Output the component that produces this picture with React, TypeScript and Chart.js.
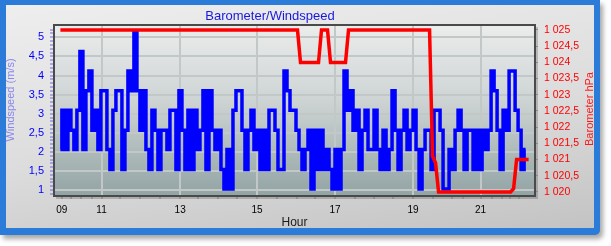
import React, { useEffect, useRef } from "react";
import { Chart, registerables } from "chart.js";

Chart.register(...registerables);

// Wind speed (m/s), one reading per sample
const windSpeed: number[] = [
  2.06, 3.09, 2.06, 3.09, 2.57, 2.06, 3.09, 4.63, 2.06, 3.6,
  4.12, 2.57, 3.09, 2.06, 3.6, 3.6, 2.06, 1.54, 3.09, 3.6,
  3.6, 1.54, 2.57, 4.12, 3.6, 5.14, 3.6, 2.57, 3.6, 2.06,
  1.54, 3.09, 2.57, 1.54, 2.57, 2.57, 2.06, 3.09, 3.09, 1.54,
  3.6, 2.57, 1.54, 3.09, 1.54, 3.09, 2.06, 2.57, 3.6, 1.54,
  3.6, 2.57, 2.06, 2.57, 1.54, 1.03, 2.06, 1.03, 3.09, 3.6,
  3.6, 2.57, 1.54, 2.57, 3.09, 2.06, 2.57, 1.54, 2.57, 1.54,
  3.09, 3.09, 2.57, 1.54, 1.54, 4.12, 3.6, 3.09, 3.09, 2.57,
  2.06, 1.54, 2.06, 2.57, 1.03, 2.57, 1.54, 2.57, 1.54, 2.06,
  1.54, 1.03, 2.06, 1.03, 2.06, 4.12, 3.09, 3.6, 2.57, 3.09,
  1.54, 2.57, 3.09, 2.06, 2.06, 3.09, 2.06, 1.54, 2.57, 1.54,
  2.06, 3.6, 2.57, 1.54, 2.57, 3.09, 2.06, 2.57, 3.09, 2.06,
  1.03, 2.06, 2.57, 2.57, 1.54, 3.09, 3.09, 2.57, 1.03, 1.03,
  2.06, 1.54, 2.57, 3.09, 2.57, 1.54, 2.57, 2.57, 1.54, 2.57,
  1.54, 2.57, 2.06, 2.57, 4.12, 3.6, 2.57, 1.54, 3.09, 2.57,
  4.12, 4.12, 3.09, 2.57, 1.54, 2.06,
];

// Barometer (hPa), one reading per sample
const barometer: number[] = [
  1025, 1025, 1025, 1025, 1025, 1025, 1025, 1025, 1025, 1025,
  1025, 1025, 1025, 1025, 1025, 1025, 1025, 1025, 1025, 1025,
  1025, 1025, 1025, 1025, 1025, 1025, 1025, 1025, 1025, 1025,
  1025, 1025, 1025, 1025, 1025, 1025, 1025, 1025, 1025, 1025,
  1025, 1025, 1025, 1025, 1025, 1025, 1025, 1025, 1025, 1025,
  1025, 1025, 1025, 1025, 1025, 1025, 1025, 1025, 1025, 1025,
  1025, 1025, 1025, 1025, 1025, 1025, 1025, 1025, 1025, 1025,
  1025, 1025, 1025, 1025, 1025, 1025, 1025, 1025, 1025, 1025,
  1024, 1024, 1024, 1024, 1024, 1024, 1024, 1025, 1025, 1025,
  1024, 1024, 1024, 1024, 1024, 1024, 1025, 1025, 1025, 1025,
  1025, 1025, 1025, 1025, 1025, 1025, 1025, 1025, 1025, 1025,
  1025, 1025, 1025, 1025, 1025, 1025, 1025, 1025, 1025, 1025,
  1025, 1025, 1025, 1025, 1021.1, 1020.9, 1020, 1020, 1020, 1020,
  1020, 1020, 1020, 1020, 1020, 1020, 1020, 1020, 1020, 1020,
  1020, 1020, 1020, 1020, 1020, 1020, 1020, 1020, 1020, 1020,
  1020, 1020.1, 1021, 1021, 1021, 1021, 1021,
];

// X axis: sample positions of the hour labels
const hourTickPositions = [0.43, 13.7, 39.9, 65.5, 91.5, 117.5, 140.0];
const hourTickLabels = ["09", "11", "13", "15", "17", "19", "21"];
const minorTickPositions = [
  3.5, 6.8, 10.4, 19.9, 26.5, 33.2, 45.9, 52.5, 58.9, 72.2, 78.8, 84.9,
  98.2, 104.5, 110.9, 124.2, 130.5, 134.2, 143.9, 147.2, 149.9, 152.9,
];

const windLabelTicks = [1, 1.5, 2, 2.5, 3, 3.5, 4, 4.5, 5];
const baroLabelTicks = [
  1020, 1020.5, 1021, 1021.5, 1022, 1022.5, 1023, 1023.5, 1024, 1024.5, 1025,
];

const FONT = "'Liberation Sans', Arial, sans-serif";
const GRID = "#c2c7c7";

const near = (list: number[], v: number) => list.some((t) => Math.abs(t - v) < 1e-6);

function fmtWind(v: number) {
  return String(v).replace(".", ",");
}
function fmtBaro(v: number) {
  const i = Math.floor(v + 1e-9);
  const s = String(i);
  const frac = v - i;
  return s.slice(0, s.length - 3) + " " + s.slice(-3) + (frac > 0.01 ? "," + Math.round(frac * 10) : "");
}

const decor = {
  id: "decor",
  beforeDraw(chart: any) {
    const { ctx, chartArea: a } = chart;
    ctx.save();
    ctx.fillStyle = "rgba(0,0,0,0.18)";
    ctx.fillRect(a.left + 1, a.top + 1, a.right - a.left + 3, a.bottom - a.top + 3);
    const g = ctx.createLinearGradient(0, a.top, 0, a.bottom);
    g.addColorStop(0, "#ebecec");
    g.addColorStop(0.45, "#cdd3d3");
    g.addColorStop(1, "#93a4a4");
    ctx.fillStyle = g;
    ctx.fillRect(a.left, a.top, a.right - a.left, a.bottom - a.top);
    ctx.restore();
  },
  afterDraw(chart: any) {
    const { ctx, chartArea: a } = chart;
    ctx.save();
    ctx.strokeStyle = "#4a4a4a";
    ctx.lineWidth = 2;
    ctx.strokeRect(a.left - 1, a.top - 1, a.right - a.left + 2, a.bottom - a.top + 2);

    ctx.textAlign = "center";
    ctx.textBaseline = "alphabetic";
    ctx.fillStyle = "#1818e0";
    ctx.font = `13px ${FONT}`;
    ctx.fillText("Barometer/Windspeed", 270, 20);

    ctx.fillStyle = "#1a1a1a";
    ctx.font = `12px ${FONT}`;
    ctx.fillText("Hour", (a.left + a.right) / 2, 226);

    ctx.textBaseline = "middle";
    ctx.save();
    ctx.translate(11, 100);
    ctx.rotate(-Math.PI / 2);
    ctx.fillStyle = "#8787f2";
    ctx.font = `11px ${FONT}`;
    ctx.fillText("Windspeed (m/s)", 0, 0);
    ctx.restore();

    ctx.save();
    ctx.translate(590, 109);
    ctx.rotate(-Math.PI / 2);
    ctx.fillStyle = "#ff1a1a";
    ctx.font = `11px ${FONT}`;
    ctx.fillText("Barometer hPa", 0, 0);
    ctx.restore();
    ctx.restore();
  },
};

export default function App() {
  const ref = useRef<HTMLCanvasElement | null>(null);

  useEffect(() => {
    if (!ref.current) return;
    const chart = new Chart(ref.current, {
      type: "line",
      data: {
        datasets: [
          {
            label: "Barometer",
            data: barometer.map((v, i) => ({ x: i, y: v })),
            yAxisID: "y1",
            borderColor: "#ff0000",
            borderWidth: 3.5,
            pointRadius: 0,
            tension: 0,
            order: 0,
          },
          {
            label: "Windspeed",
            data: windSpeed.map((v, i) => ({ x: i, y: v })),
            yAxisID: "y",
            borderColor: "#0000ff",
            borderWidth: 3.5,
            pointRadius: 0,
            stepped: "middle",
            borderJoinStyle: "miter",
            order: 1,
          },
        ],
      },
      options: {
        animation: false,
        responsive: false,
        maintainAspectRatio: false,
        devicePixelRatio: 1,
        layout: { padding: { top: 26, left: 0, right: 0, bottom: 0 } },
        plugins: {
          legend: { display: false },
          title: { display: false },
          tooltip: { enabled: false },
        },
        scales: {
          x: {
            type: "linear",
            min: -1.8,
            max: 157.8,
            border: { display: false },
            afterBuildTicks: (scale: any) => {
              const vals = [...hourTickPositions, ...minorTickPositions].sort((p, q) => p - q);
              scale.ticks = vals.map((v) => ({ value: v }));
            },
            afterFit: (scale: any) => {
              scale.height = 51;
            },
            grid: {
              lineWidth: 2,
              color: (c: any) =>
                c.tick && near(hourTickPositions, c.tick.value) && c.tick.value > 1 ? GRID : "rgba(0,0,0,0)",
              tickColor: "#7a7a7a",
              tickLength: 4,
              tickWidth: 1,
            },
            ticks: {
              autoSkip: false,
              maxRotation: 0,
              padding: 5,
              color: "#000000",
              font: { family: FONT, size: 10 },
              callback: (v: any) => {
                const idx = hourTickPositions.findIndex((p) => Math.abs(p - v) < 1e-6);
                return idx >= 0 ? hourTickLabels[idx] : "";
              },
            },
          },
          y: {
            type: "linear",
            position: "left",
            min: 0.872,
            max: 5.296,
            border: { display: false },
            afterBuildTicks: (scale: any) => {
              const t: any[] = [];
              for (let k = 9; k <= 52; k++) t.push({ value: k / 10 });
              scale.ticks = t;
            },
            afterFit: (scale: any) => {
              scale.width = 55;
            },
            grid: {
              lineWidth: 2,
              color: (c: any) => (c.tick && near(windLabelTicks, c.tick.value) ? GRID : "rgba(0,0,0,0)"),
              tickColor: "#6b6be8",
              tickLength: 5,
              tickWidth: 1,
            },
            ticks: {
              autoSkip: false,
              padding: 6,
              color: "#0000ff",
              font: { family: FONT, size: 11 },
              callback: (v: any) => (near(windLabelTicks, v) ? fmtWind(v) : ""),
            },
          },
          y1: {
            type: "linear",
            position: "right",
            min: 1019.907,
            max: 1025.123,
            border: { display: false },
            afterBuildTicks: (scale: any) => {
              scale.ticks = baroLabelTicks.map((v) => ({ value: v }));
            },
            afterFit: (scale: any) => {
              scale.width = 77;
            },
            grid: {
              drawOnChartArea: false,
              tickColor: "#8a8a8a",
              tickLength: 4,
              tickWidth: 1,
            },
            ticks: {
              autoSkip: false,
              padding: 6,
              color: "#ff0000",
              font: { family: FONT, size: 10.5 },
              callback: (v: any) => fmtBaro(v),
            },
          },
        },
      },
      plugins: [decor],
    } as any);
    return () => chart.destroy();
  }, []);

  return (
    <div style={{ position: "fixed", left: 0, top: 0, width: 611, height: 246, background: "#ffffff", overflow: "hidden" }}>
      <div
        style={{
          position: "absolute",
          left: 0,
          top: 0,
          width: 600,
          height: 235,
          background: "#2b7bd8",
          borderRadius: "0 0 5px 0",
          boxShadow: "3px 4px 5px rgba(0,0,0,0.35)",
        }}
      />
      <div
        style={{
          position: "absolute",
          left: 6,
          top: 5,
          width: 588,
          height: 223,
          background: "linear-gradient(172deg, #eeeeee 0%, #dcdcdc 55%, #c3c3c3 100%)",
        }}
      />
      <canvas ref={ref} width={611} height={246} style={{ position: "absolute", left: 0, top: 0, width: 611, height: 246 }} />
    </div>
  );
}
